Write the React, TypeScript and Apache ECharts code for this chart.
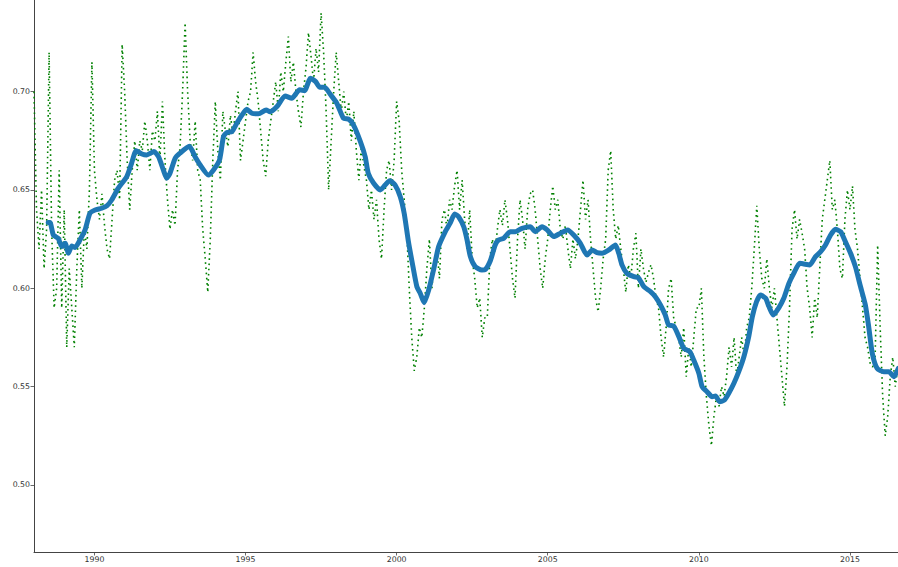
import React, { useEffect, useRef } from "react";
import * as echarts from "echarts";

// Raw series: monthly readings starting January 1988
const RAW_START = 1988;
const rawValues: number[] = [
  // 1988
  0.70, 0.64, 0.62, 0.65, 0.61, 0.63, 0.72, 0.63, 0.59, 0.60, 0.66, 0.59,
  // 1989
  0.64, 0.57, 0.61, 0.59, 0.57, 0.61, 0.64, 0.60, 0.63, 0.62, 0.65, 0.715,
  // 1990
  0.66, 0.645, 0.635, 0.648, 0.632, 0.62, 0.615, 0.635, 0.655, 0.66, 0.645, 0.724,
  // 1991
  0.70, 0.665, 0.64, 0.66, 0.675, 0.66, 0.675, 0.67, 0.685, 0.675, 0.66, 0.68,
  // 1992
  0.675, 0.69, 0.665, 0.695, 0.665, 0.645, 0.63, 0.64, 0.632, 0.66, 0.672, 0.70,
  // 1993
  0.735, 0.70, 0.675, 0.665, 0.685, 0.66, 0.655, 0.63, 0.615, 0.598, 0.625, 0.665,
  // 1994
  0.695, 0.67, 0.655, 0.69, 0.68, 0.672, 0.688, 0.678, 0.69, 0.70, 0.665, 0.675,
  // 1995
  0.685, 0.695, 0.70, 0.72, 0.705, 0.695, 0.68, 0.665, 0.657, 0.675, 0.685, 0.695,
  // 1996
  0.705, 0.69, 0.71, 0.70, 0.715, 0.728, 0.705, 0.715, 0.70, 0.69, 0.682, 0.70,
  // 1997
  0.712, 0.73, 0.718, 0.705, 0.722, 0.71, 0.74, 0.72, 0.69, 0.65, 0.675, 0.70,
  // 1998
  0.72, 0.705, 0.69, 0.70, 0.685, 0.695, 0.675, 0.69, 0.67, 0.655, 0.672, 0.662,
  // 1999
  0.655, 0.64, 0.65, 0.635, 0.645, 0.625, 0.615, 0.64, 0.66, 0.665, 0.65, 0.665,
  // 2000
  0.695, 0.685, 0.66, 0.645, 0.63, 0.60, 0.575, 0.558, 0.565, 0.58, 0.575, 0.59,
  // 2001
  0.61, 0.625, 0.60, 0.615, 0.62, 0.605, 0.635, 0.64, 0.63, 0.645, 0.64, 0.652,
  // 2002
  0.66, 0.64, 0.655, 0.635, 0.62, 0.64, 0.615, 0.605, 0.59, 0.595, 0.575, 0.585,
  // 2003
  0.585, 0.615, 0.625, 0.618, 0.63, 0.64, 0.632, 0.645, 0.635, 0.62, 0.605, 0.595,
  // 2004
  0.625, 0.645, 0.635, 0.62, 0.64, 0.648, 0.65, 0.64, 0.625, 0.61, 0.60, 0.615,
  // 2005
  0.625, 0.64, 0.652, 0.64, 0.645, 0.63, 0.625, 0.632, 0.62, 0.61, 0.625, 0.615,
  // 2006
  0.625, 0.64, 0.655, 0.635, 0.645, 0.625, 0.61, 0.595, 0.588, 0.60, 0.615, 0.625,
  // 2007
  0.66, 0.67, 0.64, 0.625, 0.632, 0.62, 0.61, 0.598, 0.612, 0.605, 0.62, 0.628,
  // 2008
  0.60, 0.62, 0.61, 0.603, 0.608, 0.612, 0.605, 0.595, 0.59, 0.575, 0.565, 0.58,
  // 2009
  0.60, 0.605, 0.585, 0.58, 0.575, 0.565, 0.58, 0.555, 0.57, 0.56, 0.575, 0.59,
  // 2010
  0.59, 0.60, 0.565, 0.545, 0.53, 0.52, 0.535, 0.545, 0.54, 0.55, 0.545, 0.555,
  // 2011
  0.57, 0.56, 0.575, 0.555, 0.565, 0.575, 0.565, 0.58, 0.585, 0.60, 0.62, 0.642,
  // 2012
  0.62, 0.605, 0.60, 0.615, 0.60, 0.59, 0.60, 0.585, 0.57, 0.555, 0.54, 0.56,
  // 2013
  0.59, 0.63, 0.64, 0.625, 0.635, 0.628, 0.62, 0.60, 0.59, 0.575, 0.595, 0.585,
  // 2014
  0.61, 0.635, 0.645, 0.655, 0.665, 0.64, 0.645, 0.63, 0.61, 0.605, 0.635, 0.65,
  // 2015
  0.64, 0.652, 0.63, 0.62, 0.605, 0.59, 0.575, 0.57, 0.562, 0.56, 0.565, 0.622,
  // 2016
  0.58, 0.545, 0.525, 0.535, 0.555, 0.565, 0.55, 0.56,
];

// Smoothed (rolling mean) series
const smoothYears: number[] = [
  1988.47, 1988.53, 1988.64, 1988.8, 1988.92, 1989.03, 1989.14, 1989.25, 1989.36, 1989.52,
  1989.69, 1989.85, 1990.02, 1990.24, 1990.41, 1990.57, 1990.79, 1991.07, 1991.23, 1991.38,
  1991.57, 1991.73, 1991.97, 1992.12, 1992.28, 1992.39, 1992.5, 1992.67, 1992.83, 1993.14,
  1993.33, 1993.5, 1993.77, 1993.94, 1994.14, 1994.27, 1994.38, 1994.55, 1994.71, 1994.88,
  1995.04, 1995.21, 1995.43, 1995.68, 1995.81, 1996.04, 1996.31, 1996.53, 1996.79, 1996.95,
  1997.15, 1997.32, 1997.46, 1997.62, 1997.81, 1998.02, 1998.24, 1998.41, 1998.57, 1998.8,
  1998.96, 1999.06, 1999.24, 1999.46, 1999.62, 1999.77, 1999.95, 2000.12, 2000.25, 2000.39,
  2000.54, 2000.67, 2000.78, 2000.91, 2001.06, 2001.22, 2001.39, 2001.61, 2001.77, 2001.92,
  2002.05, 2002.22, 2002.33, 2002.44, 2002.6, 2002.82, 2002.93, 2003.1, 2003.26, 2003.37,
  2003.54, 2003.76, 2003.93, 2004.15, 2004.42, 2004.59, 2004.81, 2004.98, 2005.2, 2005.42,
  2005.66, 2005.86, 2006.08, 2006.3, 2006.47, 2006.63, 2006.8, 2007.02, 2007.24, 2007.35,
  2007.46, 2007.62, 2007.85, 2008.0, 2008.18, 2008.4, 2008.56, 2008.73, 2008.89, 2009.0,
  2009.17, 2009.34, 2009.5, 2009.7, 2009.83, 2010.0, 2010.11, 2010.27, 2010.44, 2010.55,
  2010.69, 2010.85, 2010.99, 2011.16, 2011.32, 2011.49, 2011.65, 2011.77, 2011.91, 2012.04,
  2012.21, 2012.32, 2012.46, 2012.65, 2012.81, 2012.98, 2013.14, 2013.34, 2013.47, 2013.67,
  2013.86, 2014.03, 2014.19, 2014.36, 2014.52, 2014.69, 2014.85, 2015.02, 2015.18, 2015.35,
  2015.51, 2015.62, 2015.74, 2015.9, 2016.12, 2016.29, 2016.45, 2016.6,
];
const smoothValues: number[] = [
  0.6335, 0.6335, 0.6271, 0.6254, 0.6212, 0.6229, 0.6178, 0.6215, 0.6208, 0.6246,
  0.6297, 0.6381, 0.6398, 0.6407, 0.6419, 0.6449, 0.6509, 0.6568, 0.6636, 0.67,
  0.6683, 0.6678, 0.6695, 0.6669, 0.6602, 0.656, 0.6585, 0.6661, 0.6687, 0.6722,
  0.6669, 0.6627, 0.6576, 0.6602, 0.6653, 0.6771, 0.6792, 0.6797, 0.6839, 0.6881,
  0.691, 0.689, 0.6887, 0.6907, 0.6898, 0.6924, 0.6978, 0.6966, 0.7009, 0.7005,
  0.7068, 0.7051, 0.7022, 0.7022, 0.6985, 0.6941, 0.6865, 0.686, 0.6831, 0.6746,
  0.6669, 0.6585, 0.6534, 0.65, 0.6525, 0.6547, 0.6525, 0.6466, 0.6381, 0.6237,
  0.611, 0.6008, 0.5975, 0.5927, 0.5991, 0.6093, 0.6212, 0.6288, 0.6331, 0.6378,
  0.6364, 0.6313, 0.6246, 0.6161, 0.611, 0.6093, 0.6095, 0.614, 0.622, 0.6246,
  0.6254, 0.6288, 0.6288, 0.6305, 0.6313, 0.6288, 0.6313, 0.6297, 0.6263, 0.628,
  0.6297, 0.6271, 0.6229, 0.6169, 0.6195, 0.6181, 0.6178, 0.6195, 0.622, 0.6178,
  0.6118, 0.6076, 0.6059, 0.6054, 0.6008, 0.5983, 0.5957, 0.5915, 0.5864, 0.5813,
  0.5808, 0.5754, 0.5695, 0.5678, 0.5635, 0.5568, 0.5499, 0.5474, 0.5449, 0.5452,
  0.5423, 0.5432, 0.5466, 0.5517, 0.5576, 0.5652, 0.5754, 0.5856, 0.5932, 0.5966,
  0.5949, 0.5907, 0.5864, 0.5902, 0.5949, 0.6025, 0.6076, 0.6127, 0.6124, 0.6119,
  0.6161, 0.6186, 0.622, 0.6271, 0.63, 0.6288, 0.6237, 0.6178, 0.611, 0.6008,
  0.5915, 0.5805, 0.5669, 0.5593, 0.5576, 0.5576, 0.555, 0.5593,
];

const xTicks: number[] = [1990, 1995, 2000, 2005, 2010, 2015];
const yTicks: number[] = [0.5, 0.55, 0.6, 0.65, 0.7];

export default function App() {
  const ref = useRef<HTMLDivElement>(null);

  useEffect(() => {
    if (!ref.current) return;
    const chart = echarts.init(ref.current, undefined, { renderer: "svg" });

    const rawData = rawValues.map((v, i) => [RAW_START + i / 12, v]);
    const smoothData = smoothYears.map((t, i) => [t, smoothValues[i]]);

    const axisColor = "#444";
    const labelStyle = {
      fontSize: 7.8,
      color: "#333",
      fontFamily: "DejaVu Sans",
    };

    chart.setOption({
      animation: false,
      backgroundColor: "#ffffff",
      grid: { left: 34, right: 0, top: 0, bottom: 15, containLabel: false },
      xAxis: {
        type: "value",
        min: 1988.0,
        max: 2016.59,
        axisLine: { show: true, onZero: false, lineStyle: { color: axisColor, width: 1 } },
        axisTick: {
          show: true,
          length: 3.5,
          customValues: xTicks,
          lineStyle: { color: axisColor, width: 0.8 },
        },
        axisLabel: {
          ...labelStyle,
          margin: 3,
          customValues: xTicks,
          formatter: (v: number) => String(Math.round(v)),
        },
        splitLine: { show: false },
      },
      yAxis: {
        type: "value",
        min: 0.4659,
        max: 0.7466,
        axisLine: { show: true, onZero: false, lineStyle: { color: axisColor, width: 1 } },
        axisTick: {
          show: true,
          length: 3.5,
          customValues: yTicks,
          lineStyle: { color: axisColor, width: 0.8 },
        },
        axisLabel: {
          ...labelStyle,
          margin: 4,
          customValues: yTicks,
          formatter: (v: number) => v.toFixed(2),
        },
        splitLine: { show: false },
      },
      series: [
        {
          type: "line",
          data: rawData,
          showSymbol: false,
          z: 1,
          lineStyle: { color: "#008000", width: 1.6, type: [1.6, 3.6] },
        },
        {
          type: "line",
          data: smoothData,
          showSymbol: false,
          smooth: 0.2,
          z: 2,
          lineStyle: { color: "#1f77b4", width: 5, cap: "round", join: "round" },
        },
      ],
    });

    return () => chart.dispose();
  }, []);

  return (
    <div
      ref={ref}
      style={{ position: "absolute", left: 0, top: 0, width: 898, height: 567 }}
    />
  );
}
